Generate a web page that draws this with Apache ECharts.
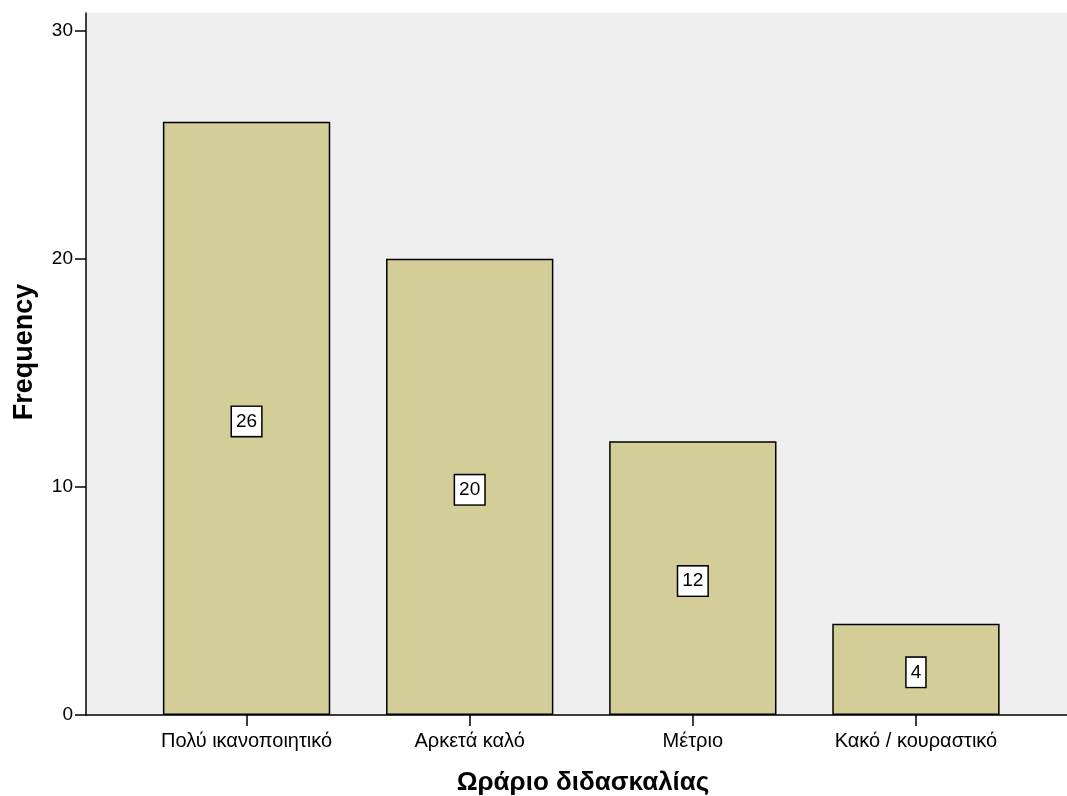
<!DOCTYPE html>
<html>
<head>
<meta charset="utf-8">
<script src="https://cdn.jsdelivr.net/npm/echarts@6/dist/echarts.min.js"></script>
<style>html,body{margin:0;padding:0;background:#fff}#c{width:1067px;height:796px}</style>
</head>
<body>
<div id="c"></div>
<script>
const categories = ['Πολύ ικανοποιητικό', 'Αρκετά καλό', 'Μέτριο', 'Κακό / κουραστικό'];
const frequencies = [26, 20, 12, 4];
const yTicks = [0, 10, 20, 30];
const xTitle = 'Ωράριο διδασκαλίας';
const yTitle = 'Frequency';

const FONT = '"Liberation Sans", Arial, sans-serif';
const chart = echarts.init(document.getElementById('c'), null, {renderer: 'canvas'});
chart.setOption({
  animation: false,
  grid: [
    {left: 86, right: 0, top: 13, bottom: 81, show: true, backgroundColor: '#efefef', borderWidth: 0},
    {left: 135, right: 39.5, top: 30.5, bottom: 81}
  ],
  xAxis: [
    {gridIndex: 0, type: 'value', min: 0, max: 1, axisLine: {show: true, lineStyle: {color: '#000', width: 1.5}},
     axisTick: {show: false}, axisLabel: {show: false}, splitLine: {show: false}},
    {gridIndex: 1, type: 'category', data: categories, axisLine: {show: false},
     axisTick: {show: true, alignWithLabel: true, length: 11, lineStyle: {color: '#000', width: 1.5}},
     axisLabel: {color: '#000', fontFamily: FONT, fontSize: 20, margin: 16}}
  ],
  yAxis: [
    {gridIndex: 0, type: 'value', min: 0, max: 1, axisLine: {show: true, lineStyle: {color: '#000', width: 1.5}},
     axisTick: {show: false}, axisLabel: {show: false}, splitLine: {show: false}},
    {gridIndex: 1, type: 'value', min: yTicks[0], max: yTicks[yTicks.length - 1], interval: 10, offset: 49,
     axisLine: {show: false}, splitLine: {show: false},
     axisTick: {show: true, length: 11, lineStyle: {color: '#000', width: 1.5}},
     axisLabel: {color: '#000', fontFamily: FONT, fontSize: 19, margin: 13}}
  ],
  graphic: [
    {type: 'text', position: [583, 783], style: {text: xTitle, font: 'bold 26px ' + FONT, fill: '#000', textAlign: 'center', textVerticalAlign: 'middle'}},
    {type: 'text', rotation: Math.PI / 2, position: [25, 352], style: {text: yTitle, font: 'bold 27px ' + FONT, fill: '#000', textAlign: 'center', textVerticalAlign: 'middle'}}
  ],
  series: [{
    type: 'bar', xAxisIndex: 1, yAxisIndex: 1, data: frequencies, barWidth: '75%',
    itemStyle: {color: '#d3ce97', borderColor: '#000', borderWidth: 1.5},
    label: {show: true, position: 'inside', offset: [0, 3], color: '#000', fontFamily: FONT, fontSize: 19, lineHeight: 19,
      backgroundColor: '#fff', borderColor: '#000', borderWidth: 1.5, padding: [5, 4, 5, 4]}
  }]
});
</script>
</body>
</html>
